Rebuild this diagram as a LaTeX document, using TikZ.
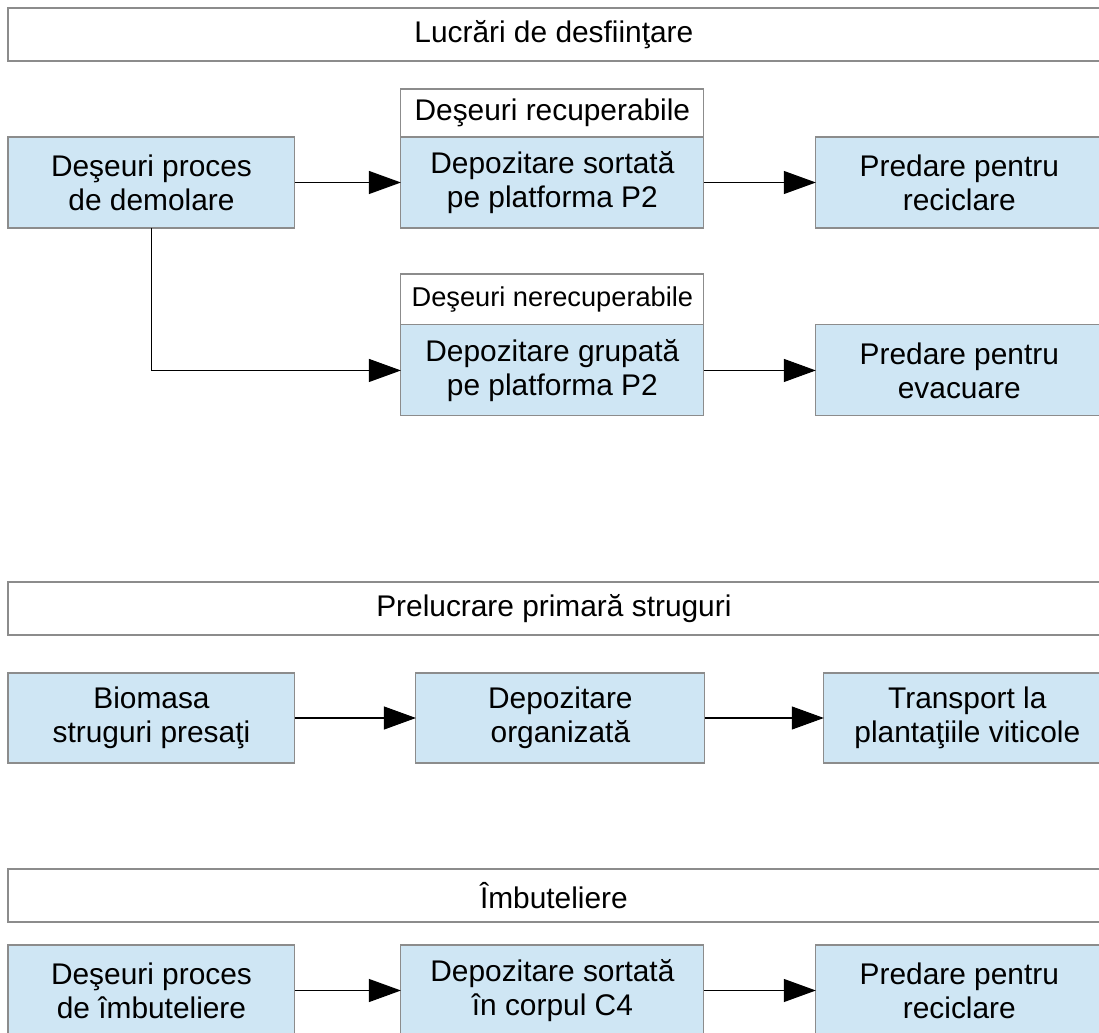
\documentclass[tikz,border=0pt]{standalone}
\usepackage{fontspec}
\setmainfont{Liberation Sans}
\usepackage{xcolor}
\usepackage{tikz}
\usetikzlibrary{arrows.meta,positioning}
\definecolor{boxblue}{RGB}{207,230,244}
\definecolor{boxgray}{RGB}{140,140,140}

\begin{document}
\begin{tikzpicture}[x=0.02cm, y=-0.02cm, node distance=2.12cm]
    \tikzstyle{blok} = [rectangle, draw=boxgray, fill=boxblue, line width=0.6pt, align=center, outer sep=0pt, minimum width=5.74cm, minimum height=1.82cm, font=\fontsize{17}{19.5}\selectfont]
    \tikzstyle{antet} = [rectangle, draw=boxgray, fill=white, line width=0.6pt, outer sep=0pt, anchor=north west, minimum width=21.84cm, minimum height=1.06cm, font=\fontsize{17}{19.5}\selectfont]
    \tikzstyle{eticheta} = [rectangle, draw=boxgray, fill=white, line width=0.6pt, outer sep=0pt, minimum width=6.06cm, font=\fontsize{17}{19.5}\selectfont]
    \tikzstyle{arrow} = [line width=0.6pt, -{Triangle[length=0.64cm, width=0.46cm]}]

    \useasboundingbox (0,0) rectangle (1099,1032);
    \clip (0,0) rectangle (1099,1032);

    % lucrari de desfiintare
    \node [antet] (lucrari) at (8,8) {Lucrări de desfiinţare};
    \node [blok, anchor=north west] (deseuDemol) at (8,137) {Deşeuri proces\\de demolare};
    \node [blok, minimum width=6.06cm, right=of deseuDemol] (depSort) {Depozitare sortată\\pe platforma P2};
    \node [blok, right=2.24cm of depSort] (predRecicl) {Predare pentru\\reciclare};
    \node [eticheta, minimum height=0.96cm, above=0pt of depSort] (etichRecup) {Deşeuri recuperabile};
    \node [eticheta, minimum height=1.02cm, below=0.92cm of depSort, font=\fontsize{15.5}{18}\selectfont] (etichNerecup) {Deşeuri nerecuperabile};
    \node [blok, minimum width=6.06cm, below=0pt of etichNerecup] (depGrup) {Depozitare grupată\\pe platforma P2};
    \node [blok, right=2.24cm of depGrup] (predEvac) {Predare pentru\\evacuare};

    \draw [arrow] (deseuDemol) -- (depSort);
    \draw [arrow] (depSort) -- (predRecicl);
    \draw [arrow] (deseuDemol.south) |- (depGrup.west);
    \draw [arrow] (depGrup) -- (predEvac);

    % prelucrare primara
    \node [antet] (prelucrare) at (8,582) {Prelucrare primară struguri};
    \node [blok, anchor=north west, minimum height=1.8cm] (biomasa) at (8,673) {Biomasa\\struguri presaţi};
    \node [blok, minimum width=5.78cm, minimum height=1.8cm, right=2.42cm of biomasa] (depOrg) {Depozitare\\organizată};
    \node [blok, minimum height=1.8cm, right=2.38cm of depOrg] (transport) {Transport la\\plantaţiile viticole};

    \draw [arrow] (biomasa) -- (depOrg);
    \draw [arrow] (depOrg) -- (transport);

    % imbuteliere
    \node [antet] (imbut) at (8,869) {Îmbuteliere};
    \node [blok, anchor=north west] (deseuImbut) at (8,945) {Deşeuri proces\\de îmbuteliere};
    \node [blok, minimum width=6.06cm, right=of deseuImbut] (depC4) {Depozitare sortată\\în corpul C4};
    \node [blok, right=2.24cm of depC4] (predRecicl2) {Predare pentru\\reciclare};

    \draw [arrow] (deseuImbut) -- (depC4);
    \draw [arrow] (depC4) -- (predRecicl2);
\end{tikzpicture}
\end{document}
